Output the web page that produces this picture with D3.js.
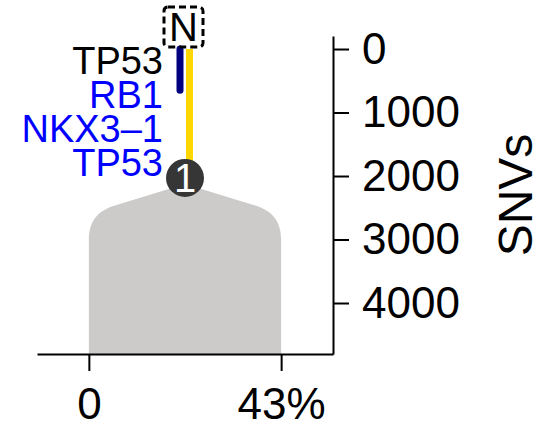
<!DOCTYPE html>
<html><head><meta charset="utf-8">
<script src="https://cdn.jsdelivr.net/npm/d3@7"></script>
<style>body{margin:0;background:#fff} svg{display:block}</style>
</head><body>
<svg id="c" width="553" height="428"></svg>
<script>
// ---- data ----
const snvTicks = [0, 1000, 2000, 3000, 4000];
const ccfTicks = [0, 43];
const ccfTickLabels = ["0", "43%"];
const cloneIds = ["1"];
const cloneCCF = [43];          // clone frequency (%)
const cloneSNVs = [2030];       // SNVs accumulated at clone node
const branchNames = ["trunk", "minor"];
const branchStart = [0, 0];
const branchEnd = [2030, 650];
const geneLabels = ["TP53", "RB1", "NKX3–1", "TP53"];
const geneIsDriver = [false, true, true, true];
const rootLabel = "N";

// ---- styles ----
const FONT = "'Liberation Sans', Arial, Helvetica, sans-serif";
const branchColor = {trunk: "#FFD700", minor: "#000080"};
const branchDx = {trunk: 4.5, minor: -5};
const branchCap = {trunk: "butt", minor: "round"};

const svg = d3.select("#c");
const x = d3.scaleLinear().domain([-11.6, 54.6]).range([37, 333]);
const y = d3.scaleLinear().domain([-205, 4803]).range([36, 354]);

// clone shape
const L = x(0), R = x(cloneCCF[0]);
const nodeX = (L + R) / 2, nodeY = y(cloneSNVs[0]);
const apex = nodeY + 6, bottom = y(4803);
const sdx = 26, sdy = 21.5;
const p = d3.path();
p.moveTo(L, bottom);
p.lineTo(L, apex + 56);
p.bezierCurveTo(L, apex + 38, L + 8, apex + 27, L + sdx, apex + sdy);
p.lineTo(nodeX, apex);
p.lineTo(R - sdx, apex + sdy);
p.bezierCurveTo(R - 8, apex + 27, R, apex + 38, R, apex + 56);
p.lineTo(R, bottom);
p.closePath();
svg.append("path").attr("d", p.toString()).attr("fill", "#cccbca");

// axes
const yAxis = svg.append("g").attr("transform", `translate(${x(54.6)},0)`)
  .call(d3.axisRight(y).tickValues(snvTicks).tickFormat(d3.format("d"))
        .tickSize(16).tickPadding(13).tickSizeOuter(0));
const xAxis = svg.append("g").attr("transform", `translate(0,${y(4803)})`)
  .call(d3.axisBottom(x).tickValues(ccfTicks).tickFormat((d, i) => ccfTickLabels[i])
        .tickSize(17).tickPadding(17).tickSizeOuter(0));
[yAxis, xAxis].forEach(g => {
  g.selectAll("path,line").attr("stroke", "#000").attr("stroke-width", 2);
  g.selectAll("text").attr("font-family", FONT).attr("font-size", 44).attr("fill", "#000");
});

svg.append("text").attr("transform", "translate(532,195) rotate(-90)")
  .attr("text-anchor", "middle").attr("font-family", FONT).attr("font-size", 48)
  .text("SNVs");

// branches
branchNames.forEach((b, i) => {
  svg.append("line")
    .attr("x1", nodeX + branchDx[b]).attr("x2", nodeX + branchDx[b])
    .attr("y1", y(branchStart[i])).attr("y2", y(branchEnd[i]))
    .attr("stroke", branchColor[b]).attr("stroke-width", 7)
    .attr("stroke-linecap", branchCap[b]);
});

// root box
svg.append("rect").attr("x", nodeX - 21).attr("y", y(0) - 42).attr("width", 39).attr("height", 40)
  .attr("rx", 4).attr("fill", "none").attr("stroke", "#000").attr("stroke-width", 3)
  .attr("stroke-dasharray", "7,4");
svg.append("text").attr("x", nodeX - 1.5).attr("y", y(0) - 8)
  .attr("text-anchor", "middle").attr("font-family", FONT).attr("font-size", 40)
  .text(rootLabel);

// node
svg.append("circle").attr("cx", nodeX).attr("cy", nodeY).attr("r", 19).attr("fill", "#363636");
svg.append("text").attr("x", nodeX).attr("y", nodeY + 14)
  .attr("text-anchor", "middle").attr("font-family", FONT).attr("font-size", 40)
  .attr("fill", "#fff").text(cloneIds[0]);

// gene labels
const n = geneLabels.length;
svg.selectAll("text.gene").data(geneLabels).enter().append("text")
  .attr("class", "gene")
  .attr("x", nodeX - 22)
  .attr("y", (d, i) => nodeY - 2 - (n - 1 - i) * 34)
  .attr("text-anchor", "end").attr("font-family", FONT).attr("font-size", 38)
  .attr("fill", (d, i) => geneIsDriver[i] ? "#0000FF" : "#000")
  .text(d => d);
</script>
</body></html>
